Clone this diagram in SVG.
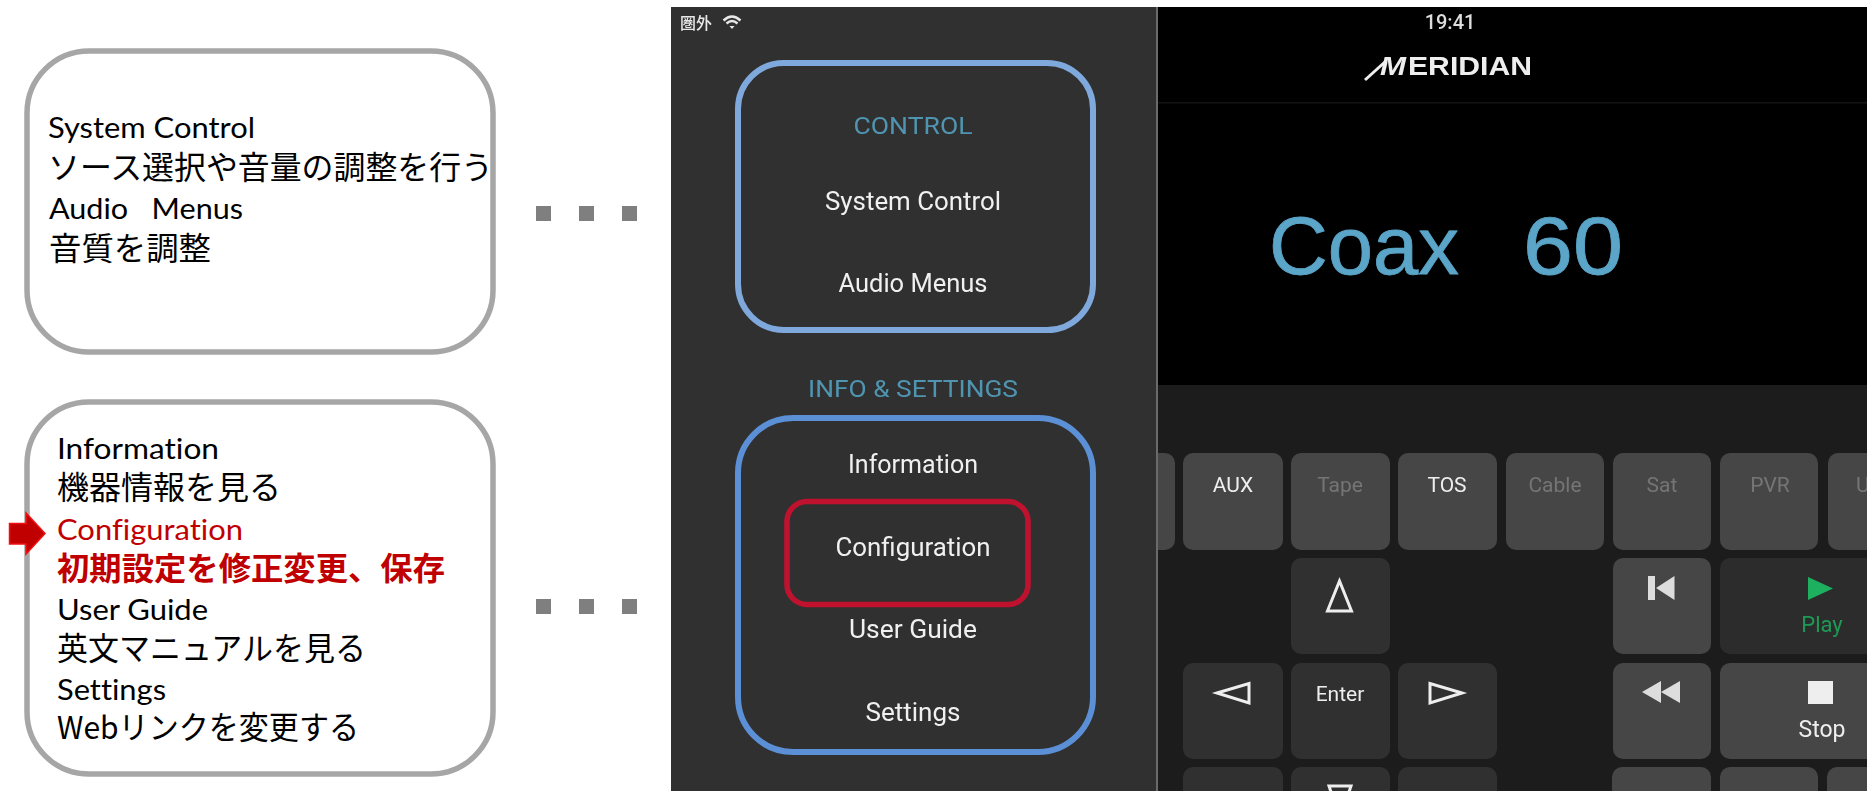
<svg xmlns="http://www.w3.org/2000/svg" width="1867" height="791" viewBox="0 0 1867 791">
<style>
.cap{fill:#fff;stroke:#a6a6a6;stroke-width:5.5}
.l{font-family:"Lato","Noto Sans CJK JP",sans-serif;font-size:28px;fill:#000;font-variant-ligatures:none}
.j{font-family:"Noto Sans CJK JP",sans-serif;font-size:31.5px;fill:#000}
.red{fill:#c00000}
.dot{fill:#7f7f7f}
.m{font-family:"Roboto","Liberation Sans",sans-serif;font-size:25px;fill:#f0f0f0;text-anchor:middle}
.h{font-family:"Roboto","Liberation Sans",sans-serif;font-size:24px;fill:#4f94b0;text-anchor:middle}
.b1{fill:#464646}.b2{fill:#303030}
.bt{font-family:"Roboto","Liberation Sans",sans-serif;font-size:21px;fill:#eee;text-anchor:middle}
.dim{fill:#757575}
.ol{fill:none;stroke:#eee;stroke-width:3}
</style>
<defs><filter id="soft" x="-2%" y="-2%" width="104%" height="104%"><feGaussianBlur stdDeviation="0.6"/></filter></defs>
<rect width="1867" height="791" fill="#fff"/>

<g id="connectors">
<rect class="dot" x="536" y="206" width="15" height="15"/>
<rect class="dot" x="579" y="206" width="15" height="15"/>
<rect class="dot" x="622" y="206" width="15" height="15"/>
<rect class="dot" x="536" y="599" width="15" height="15"/>
<rect class="dot" x="579" y="599" width="15" height="15"/>
<rect class="dot" x="622" y="599" width="15" height="15"/>
</g>

<g id="caption-control">
<rect class="cap" x="27" y="51" width="466" height="301" rx="62"/>
<text class="l" x="48" y="138" textLength="207" lengthAdjust="spacingAndGlyphs">System Control</text>
<text class="j" x="48" y="179" textLength="445" lengthAdjust="spacingAndGlyphs">ソース選択や音量の調整を行う</text>
<text class="l" x="49" y="219" xml:space="preserve" textLength="194" lengthAdjust="spacingAndGlyphs">Audio   Menus</text>
<text class="j" x="49" y="260" textLength="162" lengthAdjust="spacingAndGlyphs">音質を調整</text>
</g>

<g id="caption-info">
<rect class="cap" x="27" y="402" width="466" height="372" rx="62"/>
<text class="l" x="57" y="459" textLength="162" lengthAdjust="spacingAndGlyphs">Information</text>
<text class="j" x="57" y="499" textLength="224" lengthAdjust="spacingAndGlyphs">機器情報を見る</text>
<text class="l red" x="57" y="540" textLength="186" lengthAdjust="spacingAndGlyphs">Configuration</text>
<text class="j red" font-weight="700" x="57" y="580" textLength="388" lengthAdjust="spacingAndGlyphs">初期設定を修正変更、保存</text>
<text class="l" x="57" y="620" textLength="151" lengthAdjust="spacingAndGlyphs">User Guide</text>
<text class="j" x="57" y="660" textLength="309" lengthAdjust="spacingAndGlyphs">英文マニュアルを見る</text>
<text class="l" x="57" y="700" textLength="109" lengthAdjust="spacingAndGlyphs">Settings</text>
<text class="j" x="57" y="739" textLength="302" lengthAdjust="spacingAndGlyphs">Webリンクを変更する</text>
</g>

<g id="red-arrow">
<polygon points="9.500,523.500 26,523.500 26,513 45,533.500 26,554 26,544 9.500,544" fill="#c00000" stroke="#f01010" stroke-width="1.500"/>
</g>

<g id="menu-panel">
<rect x="671" y="7" width="485" height="784" fill="#303030"/>
<rect x="1156" y="7" width="2" height="784" fill="#6a6a6a"/>
<g filter="url(#soft)">
<text x="680" y="29" font-family="'Noto Sans CJK TC',sans-serif" font-size="16" font-weight="500" fill="#e8e8e8">圏外</text>
<g id="wifi" fill="none" stroke="#e8e8e8" stroke-width="2.500">
<path d="M723.500 20.500Q732 12.500 740.500 20.500"/>
<path d="M726.500 23.500Q732 18.500 737.500 23.500"/>
<polygon points="729.500,26 734.500,26 732,29" fill="#e8e8e8" stroke="none"/>
</g>
<text class="h" x="913" y="134" textLength="119" lengthAdjust="spacingAndGlyphs">CONTROL</text>
<text class="m" x="913" y="210" textLength="176" lengthAdjust="spacingAndGlyphs">System Control</text>
<text class="m" x="913" y="292" textLength="149" lengthAdjust="spacingAndGlyphs">Audio Menus</text>
<text class="h" x="913" y="397" textLength="210" lengthAdjust="spacingAndGlyphs">INFO &amp; SETTINGS</text>
<text class="m" x="913" y="473" textLength="130" lengthAdjust="spacingAndGlyphs">Information</text>
<text class="m" x="913" y="556" textLength="155" lengthAdjust="spacingAndGlyphs">Configuration</text>
<text class="m" x="913" y="638" textLength="128" lengthAdjust="spacingAndGlyphs">User Guide</text>
<text class="m" x="913" y="721" textLength="95" lengthAdjust="spacingAndGlyphs">Settings</text>
</g>
</g>
<g id="highlight-control"><rect x="738" y="63" width="355" height="267" rx="46" fill="none" stroke="#7fa9dc" stroke-width="6"/></g>
<g id="highlight-info"><rect x="738" y="418" width="355" height="334" rx="55" fill="none" stroke="#5b8fd6" stroke-width="6"/></g>
<g id="highlight-configuration"><rect x="787" y="501.500" width="241" height="103" rx="20" fill="none" stroke="#c0122f" stroke-width="5.500"/></g>

<g id="remote-display">
<rect x="1158" y="7" width="709" height="378" fill="#000"/>
<rect x="1158" y="102" width="709" height="1.500" fill="#141414"/>
<g filter="url(#soft)">
<text x="1450" y="29" text-anchor="middle" font-family="'Roboto',sans-serif" font-weight="500" font-size="20" fill="#ddd">19:41</text>
<path d="M1365 80L1386 61" stroke="#eee" stroke-width="3" fill="none"/>
<text y="75" font-family="'Liberation Sans',sans-serif" font-weight="700" font-size="25" fill="#eee"><tspan x="1380" font-style="italic" textLength="26" lengthAdjust="spacingAndGlyphs">M</tspan><tspan x="1408" textLength="124" lengthAdjust="spacingAndGlyphs">ERIDIAN</tspan></text>
<text x="1269" y="274" font-family="'Liberation Sans',sans-serif" font-size="81" fill="#5aa5c8" stroke="#5aa5c8" stroke-width="0.800" textLength="190" lengthAdjust="spacingAndGlyphs">Coax</text>
<text x="1523" y="274" font-family="'Liberation Sans',sans-serif" font-size="81" fill="#5aa5c8" stroke="#5aa5c8" stroke-width="0.800" textLength="100" lengthAdjust="spacingAndGlyphs">60</text>
</g>
</g>

<g id="remote-keys">
<rect x="1158" y="385" width="709" height="406" fill="#1c1c1c"/>
<path class="b1" d="M1158 453H1165a10 10 0 0 1 10 10V540a10 10 0 0 1 -10 10H1158Z"/>
<rect class="b1" x="1183" y="453" width="100" height="97" rx="10"/>
<rect class="b1" x="1291" y="453" width="99" height="97" rx="10"/>
<rect class="b1" x="1398" y="453" width="99" height="97" rx="10"/>
<rect class="b1" x="1506" y="453" width="98" height="97" rx="10"/>
<rect class="b1" x="1613" y="453" width="98" height="97" rx="10"/>
<rect class="b1" x="1720" y="453" width="98" height="97" rx="10"/>
<rect class="b1" x="1828" y="453" width="60" height="97" rx="10"/>
<rect class="b2" x="1291" y="558" width="99" height="96" rx="10"/>
<rect class="b1" x="1613" y="558" width="98" height="96" rx="10"/>
<rect x="1720" y="558" width="170" height="96" rx="10" fill="#2c2c2c"/>
<rect class="b2" x="1183" y="663" width="100" height="96" rx="10"/>
<rect class="b2" x="1291" y="663" width="99" height="96" rx="10"/>
<rect class="b2" x="1398" y="663" width="99" height="96" rx="10"/>
<rect class="b1" x="1613" y="663" width="98" height="96" rx="10"/>
<rect class="b1" x="1720" y="663" width="170" height="96" rx="10"/>
<rect class="b2" x="1183" y="767" width="100" height="40" rx="10"/>
<rect class="b2" x="1291" y="767" width="99" height="40" rx="10"/>
<rect class="b2" x="1398" y="767" width="99" height="40" rx="10"/>
<rect class="b1" x="1612" y="767" width="99" height="40" rx="10"/>
<rect class="b1" x="1720" y="767" width="98" height="40" rx="10"/>
<rect class="b1" x="1827" y="767" width="60" height="40" rx="10"/>

<g filter="url(#soft)">
<text class="bt" x="1233" y="492">AUX</text>
<text class="bt dim" x="1340" y="492">Tape</text>
<text class="bt" x="1447" y="492">TOS</text>
<text class="bt dim" x="1555" y="492">Cable</text>
<text class="bt dim" x="1662" y="492">Sat</text>
<text class="bt dim" x="1770" y="492">PVR</text>
<text class="bt dim" x="1856" y="492" style="text-anchor:start">U</text>
<text class="bt" x="1340" y="701">Enter</text>
<text class="bt" x="1822" y="632" style="fill:#1f9a55;font-size:22px">Play</text>
<text class="bt" x="1822" y="737" style="font-size:23px">Stop</text>

<polygon class="ol" points="1339.500,581 1327.500,611 1351.500,611"/>
<polygon class="ol" points="1217,693 1249,683.500 1249,703"/>
<polygon class="ol" points="1462,693 1430,683.500 1430,703"/>
<polygon class="ol" points="1340,819 1329,786 1351,786"/>
<rect x="1648" y="576" width="7" height="24" fill="#ddd"/>
<polygon points="1674.500,576 1656,588 1674.500,600" fill="#ddd"/>
<polygon points="1808,577 1833,588.500 1808,600" fill="#1eb05f"/>
<polygon points="1642,692 1661,681 1661,703" fill="#ddd"/>
<polygon points="1661,692 1680,681 1680,703" fill="#ddd"/>
<rect x="1808" y="681" width="25" height="23" fill="#eee"/>
</g>
</g>
</svg>
